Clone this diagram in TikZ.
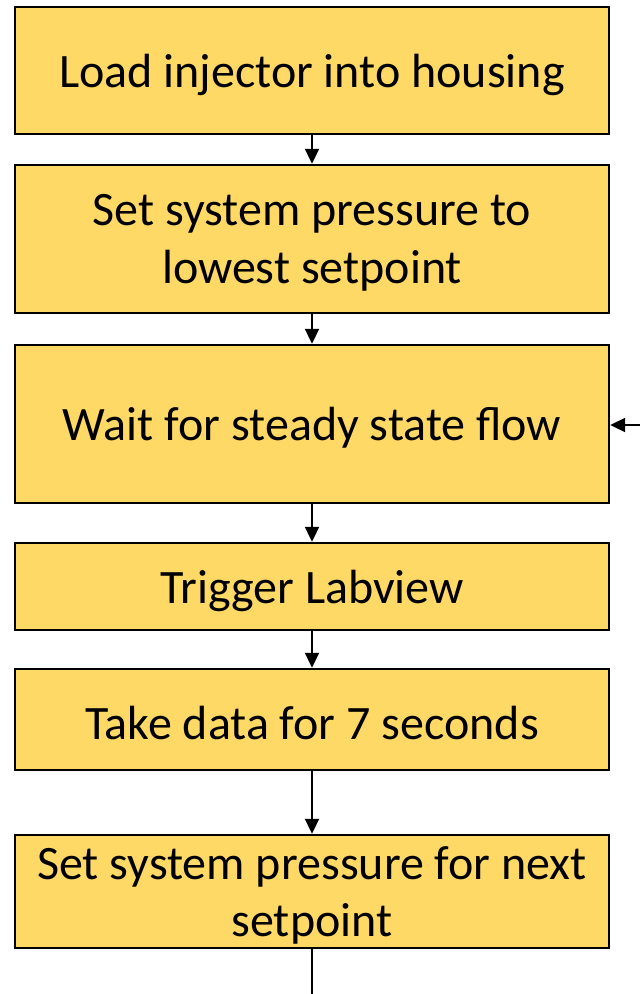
\documentclass[tikz,border=0pt]{standalone}
\usepackage{fontspec}
\setmainfont{Carlito}
\usetikzlibrary{arrows.meta}
\definecolor{boxfill}{HTML}{FFD966}
\begin{document}
\begin{tikzpicture}[x=1pt,y=1pt,
  stepbox/.style={draw=black, line width=2.4pt, fill=boxfill, minimum width=594pt, inner sep=0pt},
  txt/.style={inner sep=0pt, align=center, yshift=-4pt, font=\fontsize{48}{57.5}\selectfont},
  conn/.style={line width=2pt, -{Triangle[length=15pt,width=14pt]}}]
\useasboundingbox (0,0) rectangle (640,-994);
\node[stepbox, minimum height=127pt, label={[txt]center:Load injector into housing}] (b1) at (312,-70.5) {};
\node[stepbox, minimum height=148pt, label={[txt]center:{Set system pressure to\\lowest setpoint}}] (b2) at (312,-239) {};
\node[stepbox, minimum height=158pt, label={[txt]center:Wait for steady state flow}] (b3) at (312,-424) {};
\node[stepbox, minimum height=87pt, label={[txt]center:Trigger Labview}] (b4) at (312,-586.5) {};
\node[stepbox, minimum height=101pt, label={[txt]center:Take data for 7 seconds}] (b5) at (312,-719.5) {};
\node[stepbox, minimum height=113pt, label={[txt]center:{Set system pressure for next\\setpoint}}] (b6) at (312,-891.5) {};
\coordinate (loopin) at (642,-425);
\coordinate (down) at (312,-996);
\draw[conn] (b1.south) -- (b2.north);
\draw[conn] (b2.south) -- (b3.north);
\draw[conn] (b3.south) -- (b4.north);
\draw[conn] (b4.south) -- (b5.north);
\draw[conn] (b5.south) -- (b6.north);
\draw[conn] (loopin) -- (b3.east |- loopin);
\draw[line width=2pt] (b6.south) -- (down);
\end{tikzpicture}
\end{document}
